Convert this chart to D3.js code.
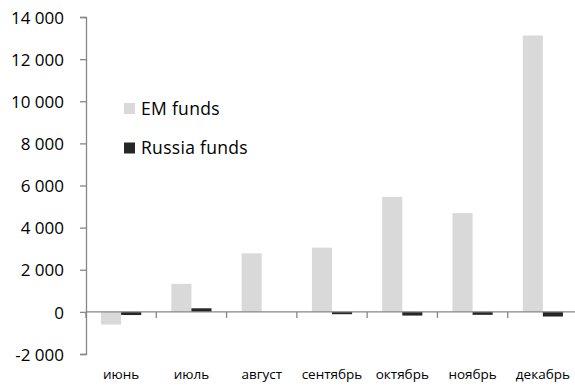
<!DOCTYPE html>
<html><head><meta charset="utf-8">
<script src="https://cdn.jsdelivr.net/npm/d3@7"></script>
<style>
html,body{margin:0;padding:0;background:#fff;}
svg{display:block;font-family:"Open Sans",sans-serif;}
</style></head>
<body><svg id="c" width="575" height="388"></svg>
<script>
const categories = ["июнь","июль","август","сентябрь","октябрь","ноябрь","декабрь"];
const emFunds = [-600, 1330, 2780, 3050, 5460, 4690, 13120];
const russiaFunds = [-150, 170, 0, -110, -175, -140, -220];
const seriesNames = ["EM funds","Russia funds"];
const seriesColors = ["#d9d9d9","#262626"];
const yTicks = [-2000,0,2000,4000,6000,8000,10000,12000,14000];

const svg = d3.select("#c");
const x0 = 86, x1 = 578, yTop = 17, yBot = 354;
const x = d3.scaleBand().domain(categories).range([x0, x1]).paddingInner(0).paddingOuter(0);
const y = d3.scaleLinear().domain([-2000, 14000]).range([yBot, yTop]);
const inner = d3.scaleBand().domain([0,1]).range([0, x.bandwidth()]).paddingInner(0).paddingOuter(0.75);
const fmt = v => d3.format(",")(v).replace(/,/g, " ").replace("\u2212", "-");
const axisColor = "#868686";

// Y axis
const yAxis = d3.axisLeft(y).tickValues(yTicks).tickSize(6).tickFormat(fmt);
const gy = svg.append("g").attr("transform", `translate(${x0},0)`).call(yAxis);
gy.select(".domain").attr("stroke", axisColor).attr("stroke-width", 1.3);
gy.selectAll(".tick line").attr("stroke", axisColor).attr("stroke-width", 1.3);
gy.selectAll(".tick text").attr("x", -22).attr("dy", "0.36em").attr("fill", "#000")
  .style("font-size", "17px").style("font-family", "'Open Sans',sans-serif");

// bars
const series = [emFunds, russiaFunds];
series.forEach((vals, si) => {
  svg.append("g").selectAll("rect").data(vals).join("rect")
    .attr("x", (d, i) => x(categories[i]) + inner(si))
    .attr("width", inner.bandwidth())
    .attr("y", d => y(Math.max(0, d)))
    .attr("height", d => Math.abs(y(d) - y(0)))
    .attr("fill", seriesColors[si]);
});

// X axis at zero
const gx = svg.append("g").attr("transform", `translate(0,${y(0)})`);
gx.append("line").attr("x1", x0).attr("x2", x1).attr("stroke", axisColor).attr("stroke-width", 1.3);
gx.selectAll("line.t").data(categories.map((c, i) => x(c))).join("line").attr("class", "t")
  .attr("x1", d => d).attr("x2", d => d).attr("y1", 0).attr("y2", 6)
  .attr("stroke", axisColor).attr("stroke-width", 1.3);

// category labels
svg.append("g").selectAll("text").data(categories).join("text")
  .attr("x", d => x(d) + x.bandwidth() / 2)
  .attr("y", 379)
  .attr("text-anchor", "middle")
  .style("font-size", "13.5px")
  .attr("fill", "#000")
  .text(d => d);

// legend
const leg = svg.append("g");
seriesNames.forEach((n, i) => {
  const ly = 103 + i * 39.5;
  leg.append("rect").attr("x", 124).attr("y", ly).attr("width", 11).attr("height", 11).attr("fill", seriesColors[i]);
  leg.append("text").attr("x", 141).attr("y", ly + 11.5).style("font-size", "17.5px")
    .style("letter-spacing", "0.3px").attr("fill", "#000").text(n);
});
</script></body></html>
